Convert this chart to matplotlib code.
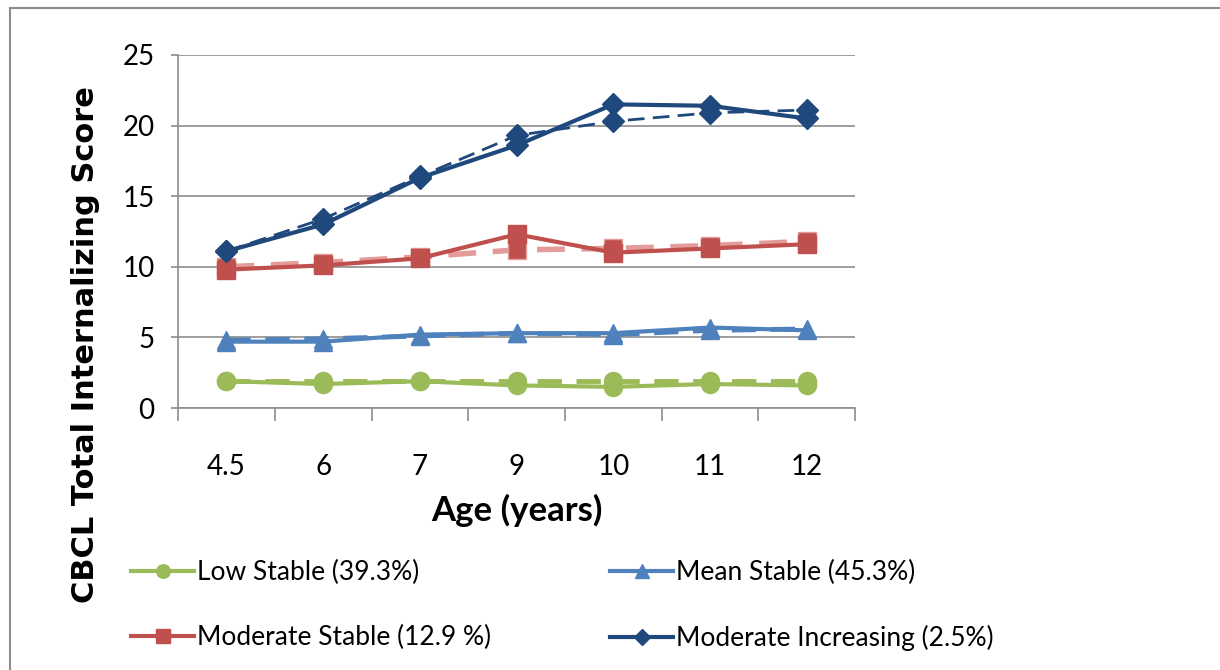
import matplotlib
matplotlib.use("Agg")
import matplotlib.pyplot as plt
from matplotlib.patches import Rectangle
from matplotlib.ticker import FixedLocator, NullFormatter

AGES = ["4.5", "6", "7", "9", "10", "11", "12"]

LOW_OBS = [1.9, 1.7, 1.9, 1.6, 1.5, 1.7, 1.6]
LOW_EST = [1.9, 1.9, 1.9, 1.9, 1.9, 1.9, 1.9]
MEAN_OBS = [4.7, 4.7, 5.2, 5.3, 5.3, 5.7, 5.5]
MEAN_EST = [4.8, 4.9, 5.1, 5.3, 5.2, 5.5, 5.6]
MOD_OBS = [9.8, 10.1, 10.6, 12.3, 11.0, 11.3, 11.6]
MOD_EST = [10.0, 10.3, 10.7, 11.2, 11.3, 11.5, 11.8]
INC_OBS = [11.1, 13.0, 16.3, 18.6, 21.5, 21.4, 20.5]
INC_EST = [11.1, 13.4, 16.4, 19.3, 20.3, 20.9, 21.1]

LABELS = ["Low Stable (39.3%)", "Mean Stable (45.3%)",
          "Moderate Stable (12.9 %)", "Moderate Increasing (2.5%)"]

GREEN = "#9BBB59"
BLUE = "#4F81BD"
RED = "#C0504D"
LIGHT_RED = "#E39C9A"
NAVY = "#1F497D"
GRID = "#8C8C8C"

NARROW = ["Lato", "DejaVu Sans"]

fig = plt.figure(figsize=(12.2, 6.7), dpi=100)
ax = fig.add_axes([0.146, 0.391, 0.555, 0.527])
x = list(range(len(AGES)))

# dashed = estimated, solid = observed
ax.plot(x, LOW_EST, color=GREEN, lw=3.5, ls=(0, (5, 3)), marker="o", ms=13, zorder=3)
ax.plot(x, MEAN_EST, color=BLUE, lw=3.5, ls=(0, (5, 3)), marker="^", ms=13, zorder=3)
ax.plot(x, MOD_EST, color=LIGHT_RED, lw=4, ls=(0, (5, 3)), marker="s",
        ms=13, mfc=RED, mec=LIGHT_RED, zorder=3)
ax.plot(x, INC_EST, color=NAVY, lw=2, ls=(0, (6, 3)), marker="D", ms=11, zorder=3)

l1, = ax.plot(x, LOW_OBS, color=GREEN, lw=3, marker="o", ms=13, zorder=4)
l2, = ax.plot(x, MEAN_OBS, color=BLUE, lw=3, marker="^", ms=13, zorder=4)
l3, = ax.plot(x, MOD_OBS, color=RED, lw=3, marker="s", ms=13, zorder=4)
l4, = ax.plot(x, INC_OBS, color=NAVY, lw=3, marker="D", ms=11, zorder=4)

ax.set_xlim(-0.5, len(AGES) - 0.5)
ax.set_ylim(0, 25)
ax.set_yticks([0, 5, 10, 15, 20, 25])
ax.yaxis.grid(True, color=GRID, lw=1.2)
ax.set_axisbelow(True)
for s in ["top", "right"]:
    ax.spines[s].set_visible(False)
for s in ["left", "bottom"]:
    ax.spines[s].set_color(GRID)
    ax.spines[s].set_linewidth(1.2)

ax.set_xticks(x)
ax.set_xticklabels(AGES, family=NARROW, fontsize=20)
ax.xaxis.set_minor_locator(FixedLocator([i - 0.5 for i in range(len(AGES) + 1)]))
ax.xaxis.set_minor_formatter(NullFormatter())
ax.tick_params(axis="x", which="major", length=0, pad=33)
ax.tick_params(axis="x", which="minor", length=9, color=GRID, width=1.2)
ax.tick_params(axis="y", length=5, color=GRID, width=1.2, pad=12)
for t in ax.get_yticklabels():
    t.set_family(NARROW)
    t.set_fontsize(20)

ax.set_xlabel("Age (years)", family=NARROW, fontsize=25, fontweight="bold", labelpad=10)
fig.text(0.07, 0.485, "CBCL Total Internalizing Score", rotation=90,
         fontsize=22, fontweight="bold", ha="center", va="center")

# legend is filled row by row in the reference
fig.legend([l1, l3, l2, l4], [LABELS[0], LABELS[2], LABELS[1], LABELS[3]],
           loc="upper left", bbox_to_anchor=(0.088, 0.199),
           ncol=2, frameon=False, prop={"family": NARROW, "size": 19},
           handlelength=2.4, handletextpad=0.1, columnspacing=4.5, labelspacing=1.5,
           markerscale=0.75)

fig.patches.append(Rectangle((0.008, -0.01), 1.0, 0.998, transform=fig.transFigure,
                             fill=False, ec="#8C8C8C", lw=1.5))

plt.savefig("out.png", dpi=100)
